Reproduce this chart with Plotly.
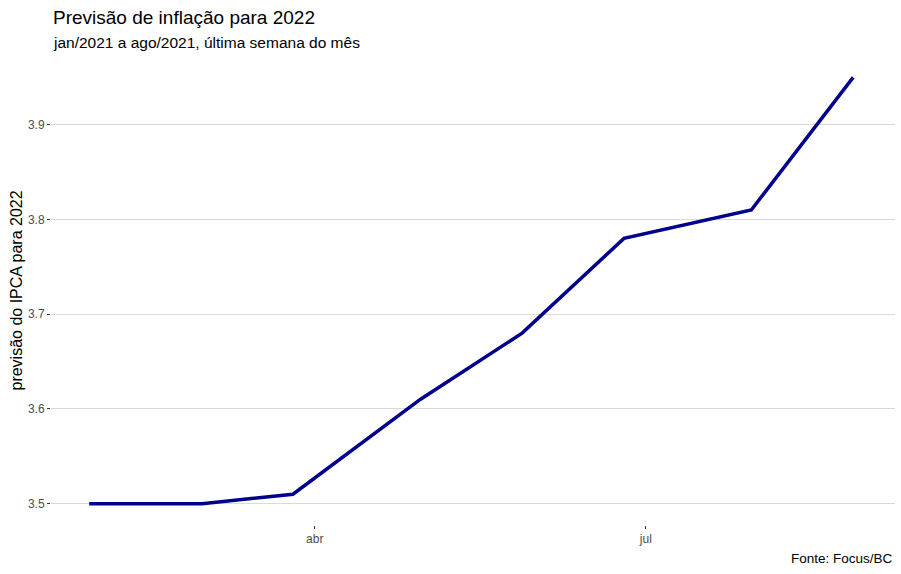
import plotly.graph_objects as go

# previsao Focus do IPCA 2022, ultima semana de cada mes
datas = ['2021-01-29', '2021-03-01', '2021-03-26', '2021-04-30',
         '2021-05-28', '2021-06-25', '2021-07-30', '2021-08-27']
ipca_2022 = [3.50, 3.50, 3.51, 3.61, 3.68, 3.78, 3.81, 3.95]

tick_datas = ['2021-04-01', '2021-07-01']
tick_meses = ['abr', 'jul']

fonte = 'Liberation Sans, Arial, sans-serif'

fig = go.Figure(
    go.Scatter(
        x=datas,
        y=ipca_2022,
        mode='lines',
        line=dict(color='#00008B', width=3.5),
        hoverinfo='x+y'
    )
)

fig.update_layout(
    width=901,
    height=574,
    margin=dict(l=51, r=6, t=56, b=49),
    plot_bgcolor='white',
    paper_bgcolor='white',
    showlegend=False,
    font=dict(family=fonte, color='#4D4D4D'),
)

fig.update_xaxes(
    range=['2021-01-18 12:00', '2021-09-07 12:00'],
    tickvals=tick_datas,
    ticktext=tick_meses,
    showgrid=False,
    zeroline=False,
    showline=False,
    automargin=False,
    ticks='outside',
    ticklen=3,
    tickcolor='#333333',
    tickfont=dict(size=12, color='#4D4D4D'),
)
fig.update_yaxes(
    range=[3.4775, 3.9725],
    tickvals=[3.5, 3.6, 3.7, 3.8, 3.9],
    ticktext=['3.5', '3.6', '3.7', '3.8', '3.9'],
    showgrid=True,
    gridcolor='#D9D9D9',
    gridwidth=1,
    zeroline=False,
    showline=False,
    automargin=False,
    ticks='outside',
    ticklen=3,
    tickcolor='#333333',
    tickfont=dict(size=12, color='#4D4D4D'),
)

fig.add_annotation(
    text='Previsão de inflação para 2022',
    xref='paper', yref='paper', x=0, y=1,
    xanchor='left', yanchor='middle', yshift=39,
    showarrow=False,
    font=dict(family=fonte, size=19, color='black'),
)
fig.add_annotation(
    text='jan/2021 a ago/2021, última semana do mês',
    xref='paper', yref='paper', x=0, y=1,
    xanchor='left', yanchor='middle', yshift=14,
    showarrow=False,
    font=dict(family=fonte, size=15.5, color='black'),
)
fig.add_annotation(
    text='previsão do IPCA para 2022',
    xref='paper', yref='paper', x=0, y=0.5,
    xanchor='center', yanchor='middle', xshift=-35,
    textangle=-90,
    showarrow=False,
    font=dict(family=fonte, size=16, color='black'),
)
fig.add_annotation(
    text='Fonte: Focus/BC',
    xref='paper', yref='paper', x=1, y=0,
    xanchor='right', yanchor='middle', yshift=-33,
    showarrow=False,
    font=dict(family=fonte, size=13.5, color='black'),
)

fig.write_html(
    "out.html",
    config={'displayModeBar': False},
    post_script="document.body.style.margin='0';document.body.style.overflow='hidden';"
)
